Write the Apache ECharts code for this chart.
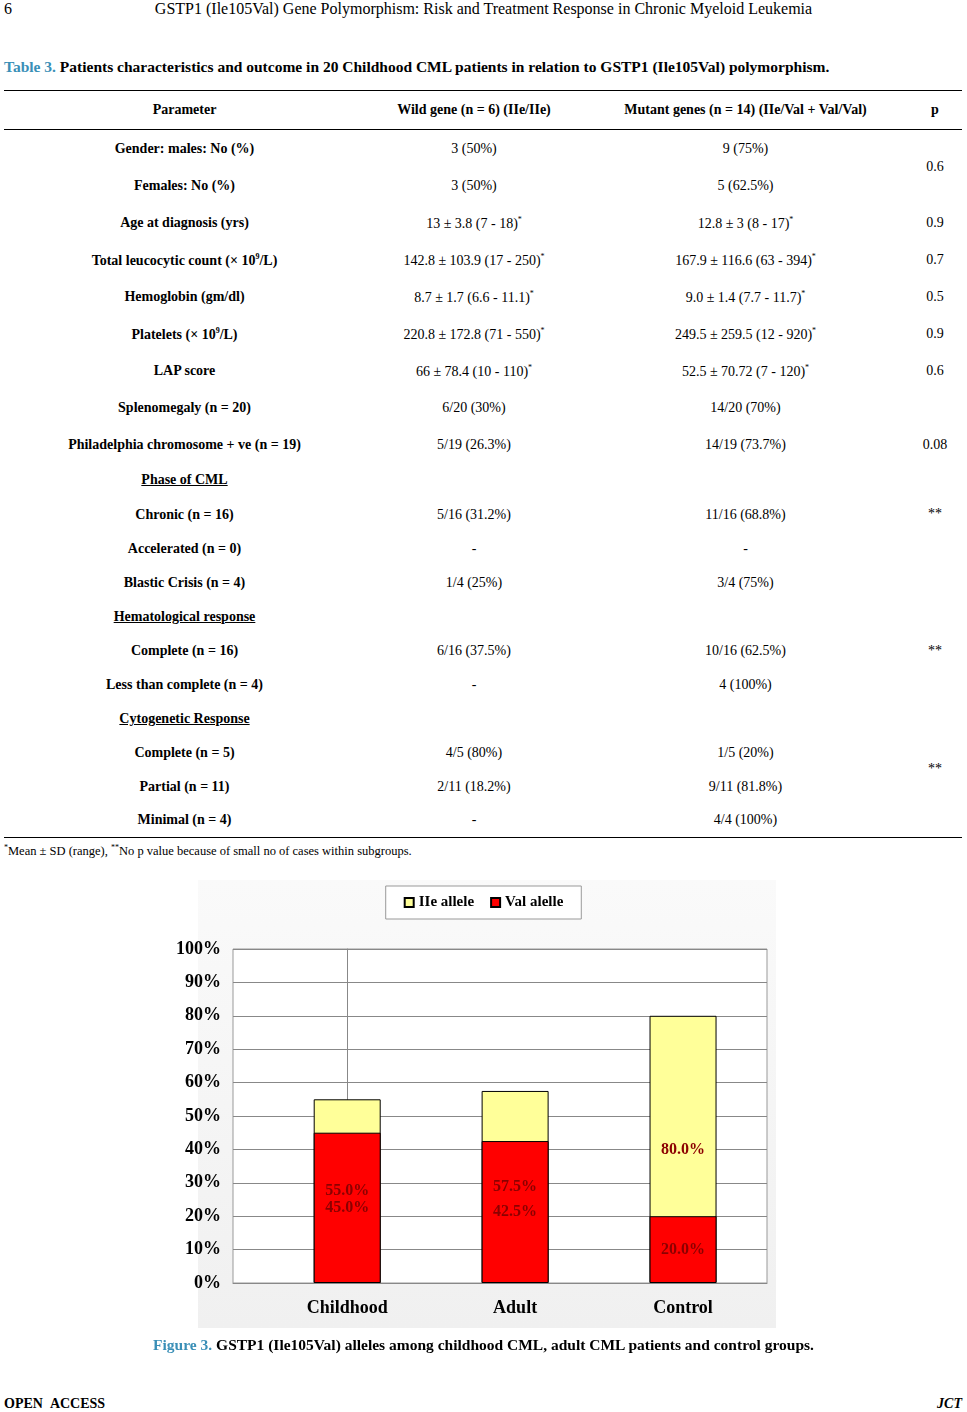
<!DOCTYPE html>
<html><head><meta charset="utf-8">
<script src="https://cdn.jsdelivr.net/npm/echarts@6/dist/echarts.min.js"></script>
<style>
body{margin:0;width:967px;height:1412px;position:relative;font-family:"Liberation Serif","Times New Roman",serif;background:#fff;color:#000}
.hd{position:absolute;top:0;left:0;width:967px;font-size:16px}
.tt{position:absolute;top:58px;left:4px;font-size:15.5px;font-weight:bold}
.tt span{color:#3a8fb7}
table{position:absolute;top:90px;left:4px;width:958px;border-collapse:collapse;font-size:14px}
td,th{text-align:center;padding:0;vertical-align:middle}
th{height:38px;border-top:1px solid #000;border-bottom:1px solid #000}
td.l{font-weight:bold}
td.t{vertical-align:top;padding-top:8px}
u{font-weight:bold}
tr.last td,td.b{border-bottom:1px solid #000}
sup{font-size:8px}
.fn{position:absolute;top:843px;left:4px;font-size:12.5px}
#chart{position:absolute;left:0;top:870px;width:967px;height:470px}
.bg{position:absolute;left:198px;top:880px;width:578px;height:448px;background:linear-gradient(#fafafa,#f0f0f0)}
.cap{position:absolute;top:1336px;left:0;width:967px;text-align:center;font-size:15.5px;font-weight:bold}
.cap span{color:#3a8fb7}
.ft{position:absolute;top:1396px;left:4px;width:958px;font-size:14px;font-weight:bold}
</style></head><body>
<div class="hd"><span style="position:absolute;left:4px;top:0">6</span><span style="position:absolute;left:0;width:967px;text-align:center;top:0">GSTP1 (Ile105Val) Gene Polymorphism: Risk and Treatment Response in Chronic Myeloid Leukemia</span></div>
<div class="tt"><span>Table 3.</span> Patients characteristics and outcome in 20 Childhood CML patients in relation to GSTP1 (Ile105Val) polymorphism.</div>
<table>
<colgroup><col style="width:361px"><col style="width:218px"><col style="width:325px"><col style="width:54px"></colgroup>
<tr><th>Parameter</th><th>Wild gene (n = 6) (IIe/IIe)</th><th>Mutant genes (n = 14) (IIe/Val + Val/Val)</th><th>p</th></tr>
<tr style="height:38px"><td class="l">Gender: males: No (%)</td><td>3 (50%)</td><td>9 (75%)</td><td rowspan="2">0.6</td></tr>
<tr style="height:37px"><td class="l">Females: No (%)</td><td>3 (50%)</td><td>5 (62.5%)</td></tr>
<tr style="height:37px"><td class="l">Age at diagnosis (yrs)</td><td>13 ± 3.8 (7 - 18)<sup>*</sup></td><td>12.8 ± 3 (8 - 17)<sup>*</sup></td><td>0.9</td></tr>
<tr style="height:37px"><td class="l">Total leucocytic count (× 10<sup>9</sup>/L)</td><td>142.8 ± 103.9 (17 - 250)<sup>*</sup></td><td>167.9 ± 116.6 (63 - 394)<sup>*</sup></td><td>0.7</td></tr>
<tr style="height:37px"><td class="l">Hemoglobin (gm/dl)</td><td>8.7 ± 1.7 (6.6 - 11.1)<sup>*</sup></td><td>9.0 ± 1.4 (7.7 - 11.7)<sup>*</sup></td><td>0.5</td></tr>
<tr style="height:37px"><td class="l">Platelets (× 10<sup>9</sup>/L)</td><td>220.8 ± 172.8 (71 - 550)<sup>*</sup></td><td>249.5 ± 259.5 (12 - 920)<sup>*</sup></td><td>0.9</td></tr>
<tr style="height:37px"><td class="l">LAP score</td><td>66 ± 78.4 (10 - 110)<sup>*</sup></td><td>52.5 ± 70.72 (7 - 120)<sup>*</sup></td><td>0.6</td></tr>
<tr style="height:37px"><td class="l">Splenomegaly (n = 20)</td><td>6/20 (30%)</td><td>14/20 (70%)</td><td></td></tr>
<tr style="height:36px"><td class="l">Philadelphia chromosome + ve (n = 19)</td><td>5/19 (26.3%)</td><td>14/19 (73.7%)</td><td>0.08</td></tr>
<tr style="height:35px"><td><u>Phase of CML</u></td><td></td><td></td><td></td></tr>
<tr style="height:34px"><td class="l">Chronic (n = 16)</td><td>5/16 (31.2%)</td><td>11/16 (68.8%)</td><td rowspan="3" class="t">**</td></tr>
<tr style="height:34px"><td class="l">Accelerated (n = 0)</td><td>-</td><td>-</td></tr>
<tr style="height:34px"><td class="l">Blastic Crisis (n = 4)</td><td>1/4 (25%)</td><td>3/4 (75%)</td></tr>
<tr style="height:34px"><td><u>Hematological response</u></td><td></td><td></td><td rowspan="3">**</td></tr>
<tr style="height:34px"><td class="l">Complete (n = 16)</td><td>6/16 (37.5%)</td><td>10/16 (62.5%)</td></tr>
<tr style="height:34px"><td class="l">Less than complete (n = 4)</td><td>-</td><td>4 (100%)</td></tr>
<tr style="height:34px"><td><u>Cytogenetic Response</u></td><td></td><td></td><td rowspan="4" class="b">**</td></tr>
<tr style="height:34px"><td class="l">Complete (n = 5)</td><td>4/5 (80%)</td><td>1/5 (20%)</td></tr>
<tr style="height:34px"><td class="l">Partial (n = 11)</td><td>2/11 (18.2%)</td><td>9/11 (81.8%)</td></tr>
<tr style="height:34px" class="last"><td class="l">Minimal (n = 4)</td><td>-</td><td>4/4 (100%)</td></tr>
</table>
<div class="fn"><sup>*</sup>Mean ± SD (range), <sup>**</sup>No p value because of small no of cases within subgroups.</div>
<div class="bg"></div>
<div id="chart"></div>
<div class="cap"><span>Figure 3.</span> GSTP1 (Ile105Val) alleles among childhood CML, adult CML patients and control groups.</div>
<div class="ft"><span>OPEN&nbsp;&nbsp;ACCESS</span><span style="float:right;font-style:italic">JCT</span></div>
<script>
var groups = ['Childhood', 'Adult', 'Control'];
var ileAllele = [55.0, 57.5, 80.0];
var valAllele = [45.0, 42.5, 20.0];

function pairs(arr){ return arr.map(function(v, i){ return [i, v]; }); }

var chart = echarts.init(document.getElementById('chart'));
var lbl = {show: true, position: 'inside', color: '#8b0000', fontWeight: 700, fontSize: 16,
  fontFamily: 'Liberation Serif', formatter: function(p){ return p.value[1].toFixed(1) + '%'; }};
chart.setOption({
  animation: false,
  legend: {
    top: 16, left: 'center', itemWidth: 9, itemHeight: 9, itemGap: 16,
    borderColor: '#999', borderWidth: 1, backgroundColor: '#fff', padding: [9, 18],
    textStyle: {fontFamily: 'Liberation Serif', fontWeight: 'bold', fontSize: 15, color: '#000'},
    data: [{name: 'IIe allele', icon: 'rect'}, {name: 'Val alelle', icon: 'rect'}]
  },
  grid: {left: 233, right: 200, top: 79, bottom: 57, show: true, borderColor: '#999', borderWidth: 1, backgroundColor: '#fff'},
  xAxis: {
    type: 'value', min: -0.68, max: 2.5,
    splitLine: {show: false},
    axisLine: {lineStyle: {color: '#888'}}, axisTick: {show: false},
    axisLabel: {customValues: [0, 1, 2], formatter: function(v){ return groups[Math.round(v)]; },
      fontFamily: 'Liberation Serif', fontWeight: 'bold', fontSize: 18, color: '#000', margin: 16}
  },
  yAxis: {
    type: 'value', min: 0, max: 100, interval: 10,
    axisLine: {show: true, lineStyle: {color: '#888'}}, axisTick: {show: true, length: 4},
    splitLine: {lineStyle: {color: '#888'}},
    axisLabel: {fontFamily: 'Liberation Serif', fontWeight: 'bold', fontSize: 18, color: '#000',
      formatter: '{value}%', margin: 12}
  },
  series: [
    {name: 'IIe allele', type: 'bar', stack: 'a', barWidth: 67, data: pairs(ileAllele),
     itemStyle: {color: '#ffff99', borderColor: '#000', borderWidth: 1}, label: lbl},
    {name: 'Val alelle', type: 'bar', stack: 'a', barWidth: 67, data: pairs(valAllele),
     itemStyle: {color: '#ff0000', borderColor: '#000', borderWidth: 1}, label: lbl}
  ]
});
</script>
</body></html>
